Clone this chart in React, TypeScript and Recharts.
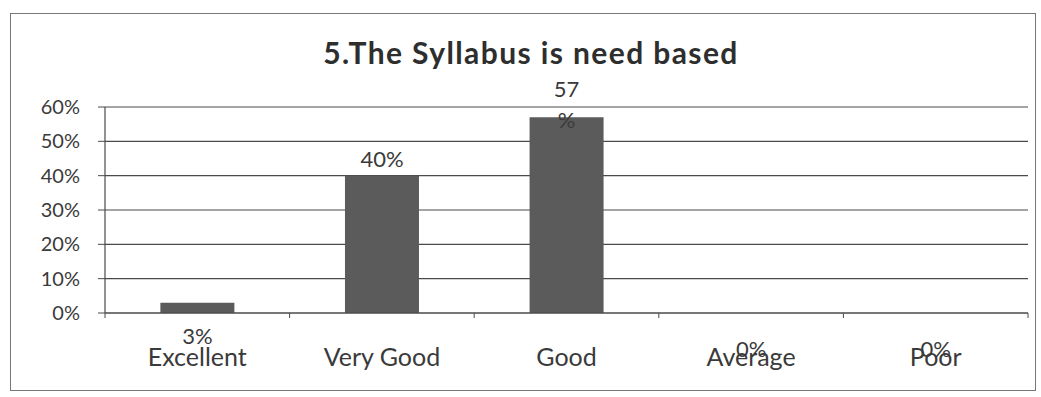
import React from "react";
import { BarChart, Bar, XAxis, YAxis, CartesianGrid, LabelList } from "recharts";

const categories = ["Excellent", "Very Good", "Good", "Average", "Poor"];
const values = [3, 40, 57, 0, 0];
const yTicks = [0, 10, 20, 30, 40, 50, 60];

const data = categories.map((c, i) => ({ name: c, value: values[i] }));

const W = 1041;
const H = 397;
const M = { top: 107, right: 13, left: 0, bottom: 0 };
const Y_AXIS_W = 105;
const X_AXIS_H = 84;
const PLOT_BOTTOM = H - M.bottom - X_AXIS_H;
const PLOT_W = W - M.left - M.right - Y_AXIS_W;
const BAND = PLOT_W / categories.length;
const FONT = "Lato, 'Open Sans', sans-serif";
const TEXT = "#3a3a3a";
const LINE = "#4a4a4a";
const LABEL_SIZE = 22;

const XTick = (props: any) => {
  const { x, payload } = props;
  const idx = payload.index;
  const v = values[idx];
  return (
    <g>
      <line x1={x - BAND / 2} x2={x - BAND / 2} y1={PLOT_BOTTOM} y2={PLOT_BOTTOM + 5} stroke={LINE} strokeWidth={1} />
      {idx === categories.length - 1 && (
        <line x1={x + BAND / 2} x2={x + BAND / 2} y1={PLOT_BOTTOM} y2={PLOT_BOTTOM + 5} stroke={LINE} strokeWidth={1} />
      )}
      <text x={x} y={PLOT_BOTTOM + 53} textAnchor="middle" fontFamily={FONT} fontSize={25} fill={TEXT}>
        {payload.value}
      </text>
      {v === 0 && (
        <text x={x} y={PLOT_BOTTOM + 44} textAnchor="middle" fontFamily={FONT} fontSize={LABEL_SIZE} fill={TEXT}>
          {`${v}%`}
        </text>
      )}
    </g>
  );
};

const renderLabel = (props: any) => {
  const { x, y, width, height, value } = props;
  const cx = Number(x) + Number(width) / 2;
  const top = Number(y);
  const base = Number(y) + Number(height);
  const common = { textAnchor: "middle" as const, fontFamily: FONT, fontSize: LABEL_SIZE, fill: TEXT };
  if (value === 0) return null;
  if (value < 5) {
    return <text x={cx} y={base + 31} {...common}>{`${value}%`}</text>;
  }
  if (value >= 50) {
    return (
      <g>
        <text x={cx} y={top - 20} {...common}>{`${value}`}</text>
        <text x={cx} y={top + 11} {...common}>%</text>
      </g>
    );
  }
  return <text x={cx} y={top - 9} {...common}>{`${value}%`}</text>;
};

export default function App() {
  return (
    <div style={{ position: "absolute", left: 0, top: 0, width: W, height: H, background: "#fff", overflow: "hidden" }}>
      <div
        style={{
          position: "absolute",
          left: 10,
          top: 13,
          width: 1024,
          height: 376,
          border: "1.5px solid #777",
        }}
      />
      <div
        style={{
          position: "absolute",
          left: 0,
          width: 1062,
          top: 36,
          textAlign: "center",
          fontFamily: FONT,
          fontWeight: 700,
          fontSize: 30,
          letterSpacing: 1.4,
          color: "#2e2e2e",
          lineHeight: "32px",
        }}
      >
        5.The Syllabus is need based
      </div>
      <div style={{ position: "absolute", left: 0, top: 0 }}>
        <BarChart width={W} height={H} data={data} margin={M} barCategoryGap="30%">
          <CartesianGrid vertical={false} stroke={LINE} strokeWidth={1.2} strokeDasharray="" />
          <XAxis
            dataKey="name"
            height={X_AXIS_H}
            interval={0}
            tickLine={false}
            axisLine={{ stroke: LINE, strokeWidth: 1.2 }}
            tick={<XTick />}
          />
          <YAxis
            width={Y_AXIS_W}
            domain={[0, 60]}
            ticks={yTicks}
            interval={0}
            tickFormatter={(v: number) => `${v}%`}
            tickSize={7}
            tickMargin={18}
            tickLine={{ stroke: LINE }}
            axisLine={{ stroke: LINE, strokeWidth: 1.2 }}
            tick={{ fontFamily: FONT, fontSize: 20, fill: TEXT }}
          />
          <Bar dataKey="value" fill="#5b5b5b" isAnimationActive={false}>
            <LabelList dataKey="value" content={renderLabel} />
          </Bar>
        </BarChart>
      </div>
    </div>
  );
}
